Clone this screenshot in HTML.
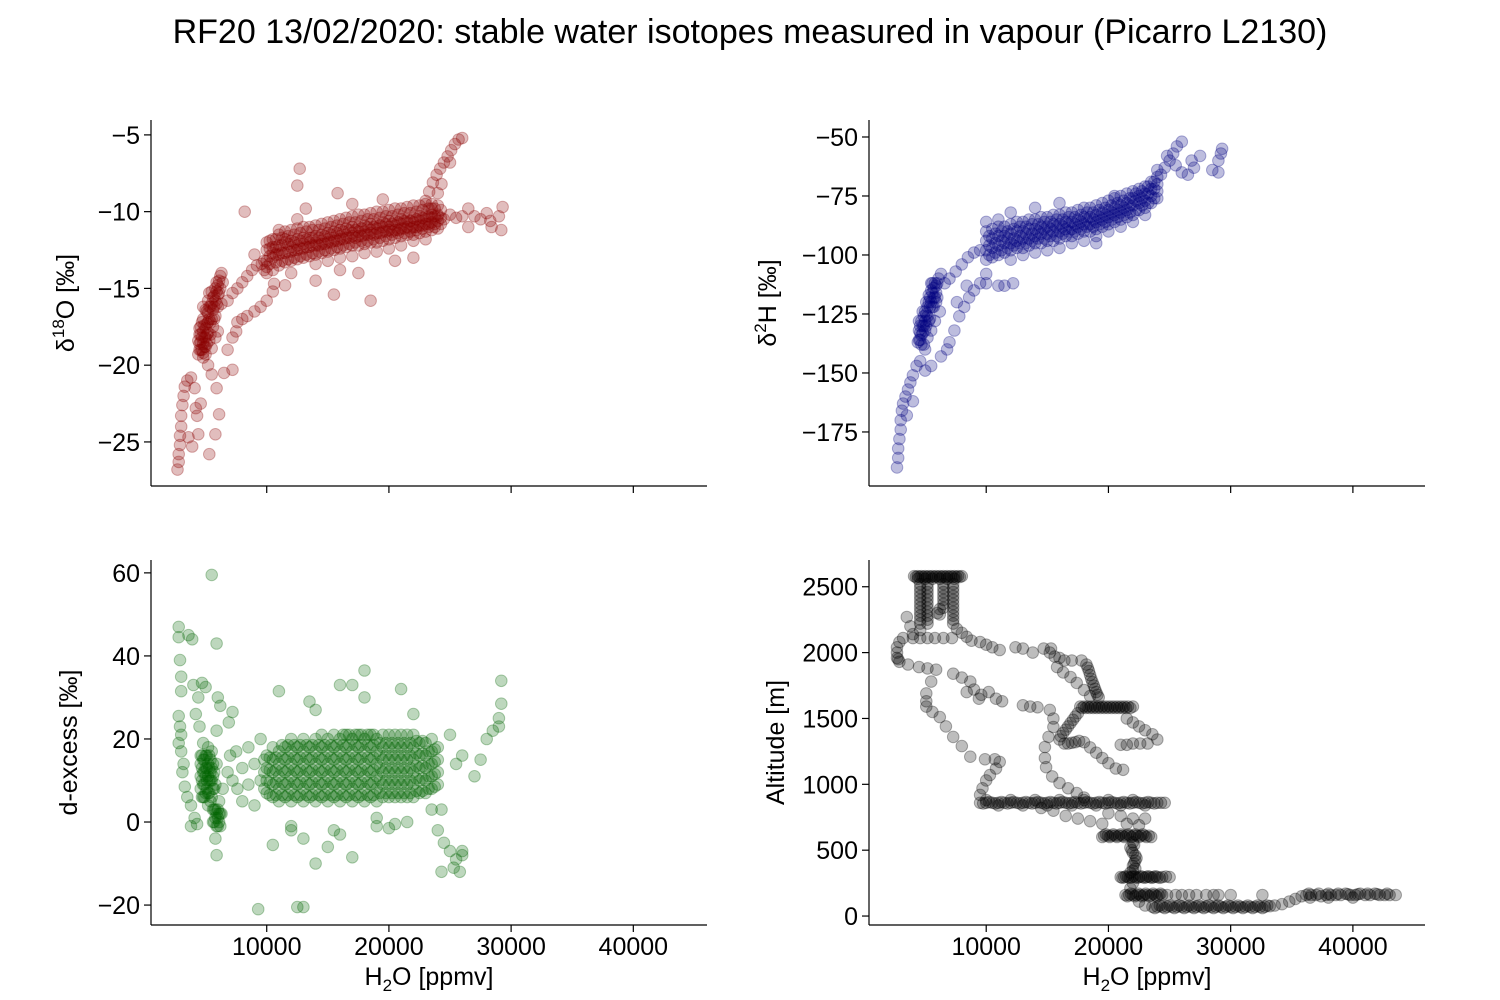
<!DOCTYPE html>
<html><head><meta charset="utf-8"><title>RF20 stable water isotopes</title>
<style>
html,body{margin:0;padding:0;background:#fff;}
svg{display:block;font-family:"Liberation Sans","DejaVu Sans",sans-serif;}
</style></head>
<body>
<svg id="fig" width="1500" height="1000" viewBox="0 0 1500 1000" xmlns="http://www.w3.org/2000/svg">
<rect width="1500" height="1000" fill="#fff"/>
<text x="750" y="43" font-size="34" text-anchor="middle">RF20 13/02/2020: stable water isotopes measured in vapour (Picarro L2130)</text>
<g id="panels"></g>
</svg>
<script>
// Data: "x:y1,y2,..." with x in thousand ppmv
const d18oData = "2.7:-26.8 2.8:-26.3,-25.8 2.9:-25.2,-24.6 3:-24,-23.3 3.1:-22.6 3.2:-22 3.3:-21.4 3.5:-21 3.8:-20.8 4.1:-21.5 4.2:-22.8 4.3:-23.3 4.4:-24.5 4.6:-22.5 3.9:-25.3 3.6:-24.7 5.3:-25.8 5.8:-24.5 6.1:-23.2 5.9:-21.5 5.5:-20.6 6.5:-20.5 5.2:-20 4.8:-19.5 7.2:-20.3 " +
"4.5:-18,-18.6,-17.6,-19 4.6:-17.5,-18.5,-19,-18 4.7:-19,-18.2,-17.2 4.8:-17,-17.8,-18.6,-19.2 4.9:-18.2,-17.4,-18.8 5:-17.6,-18.8,-16.4,-18.2 5.1:-16.5,-17.3,-18,-18.6 5.2:-17.9,-15.8,-16.6,-17.2 5.3:-18.4,-17,-15.3,-16.2 5.4:-17.2,-16.2,-18 5.5:-16,-18.9,-15.2,-17 5.6:-17.5,-16.4,-15.6 5.7:-15.5,-16.2,-17 5.8:-16.8,-18.2,-15,-15.8 5.9:-15.2,-14.6,-16 6:-17.8,-16.2,-14.8,-15.4 6.1:-14.5,-15.3 6.2:-15,-14.2 6.3:-14,-16 6.4:-14.6 4.4:-19.3,-18.4 4.8:-16.2 5:-19.3 " +
"6.8:-15.8 7.2:-15.3 7.6:-15 8:-14.6 8.4:-14.2 8.8:-13.8 9.2:-13.5 9.6:-13.4 6.8:-19 7.2:-18.2 7.6:-17.2 8:-17 8.4:-16.8 9:-16.5 9.5:-16.2 10:-15.8 10.5:-15.2 7.5:-17.8 8.2:-10 10.6:-14.7 11.5:-14.8 12:-14 " +
"9.8:-13.2,-13.8 10:-12.5,-13.2,-14,-12,-13.6 10.5:-12.3,-13,-13.8,-11.8,-12.7 11:-12.2,-12.8,-13.5,-11.5,-12.5,-11.2 11.5:-12,-12.7,-13.3,-11.3,-11.8 12:-11.9,-12.6,-13.2,-11.2,-12.3 12.5:-11.8,-12.5,-13.1,-11.1,-12.2,-10.5 13:-11.7,-12.4,-13,-11,-12.1 13.5:-11.7,-12.3,-12.9,-11,-12 14:-11.6,-12.2,-12.8,-10.9,-12,-13.4 14.5:-11.5,-12.1,-12.7,-10.8,-11.9 15:-11.4,-12,-12.6,-10.7,-11.8,-13.2 15.5:-11.3,-11.9,-12.5,-10.6,-11.7 16:-11.2,-11.8,-12.4,-10.5,-11.6,-13 16.5:-11.1,-11.7,-12.3,-10.4,-11.5 17:-11,-11.6,-12.2,-10.3,-11.4,-12.9 17.5:-11,-11.6,-12.2,-10.2,-11.3 18:-10.9,-11.5,-12.1,-10.2,-11.3,-12.7 18.5:-10.8,-11.4,-12,-10.1,-11.2 19:-10.8,-11.4,-12,-10,-11.1,-12.6 19.5:-10.7,-11.3,-11.9,-10,-11 20:-10.6,-11.2,-11.8,-9.9,-11,-12.4 20.5:-10.6,-11.2,-11.7,-9.8,-10.9 21:-10.5,-11.1,-11.6,-9.8,-10.8,-12.2 21.5:-10.5,-11,-11.5,-9.7,-10.7 22:-10.4,-11,-11.5,-9.6,-10.7,-11.9 22.5:-10.3,-10.9,-11.4,-9.6,-10.6 23:-10.3,-10.8,-11.3,-9.5,-10.5,-11.8 23.5:-10.2,-10.7,-11.2,-9.5,-10.4 24:-10.2,-10.6,-11.1,-9.6,-10.3 " +
"10.25:-11.9,-12.4,-12.9,-13.4 10.75:-11.8,-12.3,-12.8,-13.3 11.25:-11.7,-12.2,-12.7,-13.2 11.75:-11.6,-12.1,-12.6,-13.1 12.25:-11.5,-12,-12.5,-13 12.75:-11.4,-11.9,-12.4,-12.9 13.25:-11.3,-11.8,-12.3,-12.8 13.75:-11.2,-11.7,-12.2,-12.7 14.25:-11.2,-11.7,-12.2,-12.6 14.75:-11.1,-11.6,-12.1,-12.5 15.25:-11,-11.5,-12,-12.4 15.75:-10.9,-11.4,-11.9,-12.3 16.25:-10.8,-11.3,-11.8,-12.2 16.75:-10.7,-11.2,-11.7,-12.1 17.25:-10.7,-11.2,-11.7,-12 17.75:-10.6,-11.1,-11.6,-11.9 18.25:-10.5,-11,-11.5,-11.9 18.75:-10.5,-11,-11.5,-11.8 19.25:-10.4,-10.9,-11.4,-11.7 19.75:-10.3,-10.8,-11.3,-11.6 20.25:-10.3,-10.8,-11.3,-11.5 20.75:-10.2,-10.7,-11.2,-11.4 21.25:-10.1,-10.6,-11.1,-11.4 21.75:-10.1,-10.6,-11.1,-11.3 22.25:-10,-10.5,-11,-11.2 22.75:-9.9,-10.4,-10.9,-11.1 23.25:-9.8,-10.3,-10.8,-11 23.75:-9.8,-10.3,-10.8,-11 24.25:-9.9,-10.4,-10.8 " +
"23:-9.3 23.3:-8.7 23.6:-8.1 23.9:-7.6 24.2:-7.2 24.5:-6.8 24.8:-6.4 25.1:-6 25.4:-5.6 25.7:-5.3 26:-5.2 23.5:-9.8 24:-8.8 24.3:-8.2 25:-6.8 " +
"24.5:-10.5 25:-10.2 25.5:-10.4 26:-10.3 26.5:-9.8 27:-10.3 27.5:-10.5 28:-10.1 28.3:-10.6 29:-10.3 29.3:-9.7 29.2:-11.2 28.4:-11 26.5:-11 " +
"12.7:-7.2 12.5:-8.3 15.8:-8.8 13.2:-9.8 17:-9.5 19.5:-9.2 18.5:-15.8 15.5:-15.4 17.5:-14 14:-14.5 20.5:-13.2 22:-13 16:-13.8 9:-12.8";

const d2hData = "2.7:-190 2.8:-186,-182 2.9:-178 3:-174,-170 3.1:-166 3.2:-163 3.4:-160 3.6:-157 3.8:-154 4:-151 4.3:-147 4.6:-145 5:-149 5.5:-147 6.3:-143 6.8:-140 3.5:-168 4:-162 " +
"4.5:-132,-128,-136 4.6:-136,-130,-133 4.7:-128,-134,-138 4.8:-133,-124,-130 4.9:-138,-130,-126 5:-124,-132,-128 5.1:-130,-120,-125 5.2:-135,-126,-122 5.3:-120,-128,-117 5.4:-127,-118,-122 5.5:-132,-115,-120 5.6:-116,-122,-112 5.7:-122,-114,-118 5.8:-128,-118,-112 5.9:-113,-120,-116 6:-118,-112 6.1:-110 6.2:-124 4.4:-137 5:-140 5.5:-112 6.3:-108 " +
"6.6:-112 7:-110 7.5:-107 8:-104 8.5:-101 9:-99 9.5:-98 7:-137 7.4:-132 7.8:-126 8.2:-122 8.6:-118 9:-115 9.5:-112 10:-112 11:-113 11.5:-113 12.2:-112 7.6:-120 8.4:-113 10:-108 " +
"10:-94,-98,-102,-90,-86 10.5:-93,-97,-101,-89 11:-92,-96,-100,-88,-85 11.5:-92,-95,-99,-88 12:-91,-95,-98,-87,-102 12.5:-90,-94,-97,-86 13:-90,-93,-97,-86,-100 13.5:-89,-93,-96,-85 14:-89,-92,-95,-85,-99 14.5:-88,-91,-95,-84 15:-88,-91,-94,-84,-98 15.5:-87,-90,-94,-83 16:-87,-90,-93,-83,-97 16.5:-86,-89,-92,-82 17:-86,-89,-92,-82,-95 17.5:-85,-88,-91,-81 18:-84,-87,-90,-80,-94 18.5:-84,-87,-90,-80 19:-83,-86,-89,-79,-92 19.5:-82,-85,-88,-78 20:-81,-84,-87,-77,-90 20.5:-80,-83,-86,-76 21:-79,-82,-85,-75,-88 21.5:-78,-81,-84,-74 22:-76,-79,-83,-73,-86 22.5:-75,-78,-81,-72 23:-74,-77,-80,-71,-83 23.5:-72,-75,-78,-69 24:-70,-73,-76,-67 " +
"10.25:-92,-96,-100 10.75:-91,-95,-99 11.25:-90,-94,-98 11.75:-90,-93,-97 12.25:-89,-93,-96 12.75:-88,-92,-95 13.25:-88,-91,-95 13.75:-87,-91,-94 14.25:-87,-90,-93 14.75:-86,-89,-93 15.25:-86,-89,-92 15.75:-85,-88,-92 16.25:-85,-88,-91 16.75:-84,-87,-90 17.25:-84,-87,-90 17.75:-83,-86,-89 18.25:-82,-85,-88 18.75:-82,-85,-88 19.25:-81,-84,-87 19.75:-80,-83,-86 20.25:-79,-82,-85 20.75:-78,-81,-84 21.25:-77,-80,-83 21.75:-76,-79,-82 22.25:-74,-77,-81 22.75:-73,-76,-79 23.25:-71,-74,-78 23.75:-69,-72,-76 " +
"24.3:-66 24.6:-63 25:-60 25.3:-57 25.6:-54 26:-52 24:-64 24.8:-58 25.5:-62 26:-65 26.5:-66 26.8:-60 27:-63 28.5:-64 29:-65 29.3:-55 29.2:-57 29:-60 27.5:-58 " +
"14:-80 16:-78 12:-82 19:-95 20.5:-75";

const dexData = "2.8:47,44.5,25.5,19 2.9:39,23 3:35,31.5,21,17 3.2:14 3.1:12 3.3:8.5 3.5:6 3.8:4,-1 4.1:1 4.3:-0.5 4:33 4.4:30 4.5:23 4.2:26 3.6:45 3.9:44 4.7:33.5 5:32.5 5.9:43 6:30 6.2:28 5.9:22 7.2:26.5 6.9:24 5.5:59.5 " +
"4.6:14,8,11,16 4.7:10,16,13,6 4.8:6,12,15,9 4.9:12,9,15,6 5:16,7,11,13 5.1:8,13,10,16 5.2:4,11,14,7 5.3:13,7,10,16 5.4:10,15,5,12 5.5:17,6,10,13 5.6:11,3,14,8 5.7:3,8,12,0 5.8:9,1,3 5.9:14,-1,2 6:1,3,-1 6.1:5,0,2 6.2:-1,2 5.8:-4 5.9:-8 6.3:2 6.4:8 4.8:19 5.2:18 5.6:0 " +
"6.8:12 7.2:10 7.6:8 8:13 8.5:9 9:14 9.5:10 7:16 8:5 9:4 9.5:20 8.5:18 7.5:17 9.8:8,12,15 9.3:-21 " +
"10:7,10,13,16 10.5:6,9,12,15,18 11:5,8,11,14,17 11.5:6,9,12,15,18 12:5,8,11,14,17,20 12.5:6,9,12,15,18 13:5,8,11,14,17,20 13.5:6,9,12,15,18 14:5,8,11,14,17,20 14.5:6,9,12,15,18,21 15:5,8,11,14,17,20 15.5:6,9,12,15,18,21 16:5,8,11,14,17,20 16.5:6,9,12,15,18,21 17:5,8,11,14,17,20 17.5:6,9,12,15,18,21 18:5,8,11,14,17,20 18.5:6,9,12,15,18,21 19:5,8,11,14,17,20 19.5:6,9,12,15,18,21 20:6,9,12,15,18,21 20.5:6,9,12,15,18,21 21:6,9,12,15,18,21 21.5:6,9,12,15,18,21 22:6,9,12,15,18,21 22.5:7,10,13,16,19 23:7,10,13,16,19 23.5:8,11,14,17,20 24:9,12,15,18 " +
"10.25:6.5,9.5,12.5,15.5 10.75:6.5,9.5,12.5,15.5 11.25:6.5,9.5,12.5,15.5,18.5 11.75:6.5,9.5,12.5,15.5,18.5 12.25:6.5,9.5,12.5,15.5,18.5 12.75:6.5,9.5,12.5,15.5,18.5 13.25:6.5,9.5,12.5,15.5,18.5 13.75:6.5,9.5,12.5,15.5,18.5 14.25:6.5,9.5,12.5,15.5,18.5 14.75:6.5,9.5,12.5,15.5,18.5 15.25:6.5,9.5,12.5,15.5,18.5 15.75:6.5,9.5,12.5,15.5,18.5 16.25:6.5,9.5,12.5,15.5,18.5,21 16.75:6.5,9.5,12.5,15.5,18.5,21 17.25:6.5,9.5,12.5,15.5,18.5,21 17.75:6.5,9.5,12.5,15.5,18.5,21 18.25:6.5,9.5,12.5,15.5,18.5,21 18.75:6.5,9.5,12.5,15.5,18.5,21 19.25:7,10,13,16,19 19.75:7,10,13,16,19 20.25:7,10,13,16,19 20.75:7,10,13,16,19 21.25:7,10,13,16,19 21.75:7,10,13,16,19 22.25:7.5,10.5,13.5,16.5,19.5 22.75:7.5,10.5,13.5,16.5,19.5 23.25:8,11,14,17 23.75:8.5,11.5,14.5,17.5 " +
"24:-2 24.5:-5 24.3:3 25:-7 25.3:-11 25.5:-9 26:-8 25.8:-12 24.3:-12 26:-7 25.5:14 26:16 27:11 27.5:15 28:20 28.5:22 29:25 29.2:28.5,34 29:23 25:21 12.5:-20.5 13:-20.5 10.5:-5.5 12:-1 13:-4 14:-10 15:-6 16:-3 18:36.5 19:-1 20:-1.5 21:32 17:33 16:33 13.5:29 11:31.5 14:27 18:30 22:26 21.5:0 17:-8.5 19:1 20.5:-0.5 23.5:3 15.5:-2 12:-2";

const altData = "4.1:2580 4.4:2580,2560 4.7:2580 5:2580,2560 5.3:2580 5.6:2580,2560 5.9:2580 6.2:2580,2560 6.5:2580 6.8:2580,2560 7.1:2580 7.4:2580,2560 7.7:2580 8:2580 4.25:2575 4.55:2575 4.85:2575 5.15:2575 5.45:2575 5.75:2575 6.05:2575 6.35:2575 6.65:2575 6.95:2575 7.25:2575 7.55:2575 7.85:2575 " +
"4.6:2520,2460,2400,2340,2280,2220,2170,2490,2430,2370,2310,2250 5.2:2520,2460,2400,2340,2280,2220,2490,2430,2370,2310,2250 6.5:2520,2460,2400,2340,2490,2430,2370 6.2:2330,2290 6:2300 7.3:2520,2460,2400,2340,2280,2220,2490,2430,2370,2310,2250 7.6:2180 8:2150 8.4:2120 " +
"3.5:2270 3.8:2200 4:2140 3.2:2110 2.9:2080 2.7:2040,2000,1960 2.9:1930 " +
"4:2110 4.6:2110 5.2:2110 5.8:2110 6.5:2110 7.2:2110 8.8:2090 9.5:2080 10:2060 10.5:2040 11.1:2020 12.4:2040 13:2030 13.8:2000 14.7:2030 15.2:2000 15.6:1970 16:1960 16.4:1940 17:1940 17.8:1940 " +
"18.2:1910 18.4:1860 18.6:1800 18.8:1750 19:1700 19.2:1660 18.3:1885 18.5:1830 18.7:1775 18.9:1725 19.1:1680 " +
"17.7:1590 18:1590 18.3:1590 18.6:1590 18.9:1590 19.2:1590 19.5:1590 19.8:1590 20.1:1590 20.4:1590 20.7:1590 21:1590 21.3:1590 21.6:1590 22:1590 17.85:1580 18.15:1580 18.45:1580 18.75:1580 19.05:1580 19.35:1580 19.65:1580 19.95:1580 20.25:1580 20.55:1580 20.85:1580 21.15:1580 21.45:1580 21.8:1580 " +
"17.5:1540 17.1:1490 16.7:1440 16.3:1390 16:1340 16.4:1310 17:1315 17.6:1330 18:1320 18.5:1280 19:1240 19.5:1200 20:1160 20.6:1120 21.2:1110 17.3:1515 16.9:1465 16.5:1415 16.1:1365 16.7:1310 17.3:1320 " +
"21.5:1500 22:1470 22.5:1440 23:1410 23.6:1380 24:1340 21:1300 21.5:1300 22:1310 22.6:1310 23.2:1310 " +
"15.3:2030 15.8:1890 16.3:1850 16.9:1815 17.4:1770 18:1716 18.5:1670 " +
"13:1600 13.6:1590 14.2:1585 15.2:1565 15.5:1500 15.5:1435 15.1:1360 14.8:1283 14.8:1200 14.9:1130 15.4:1060 16:1010 16.7:970 17.4:933 18:900 " +
"2.8:1950 3.6:1910 4.5:1890 5.2:1880 5.9:1870 5.5:1780 5.1:1690 5.1:1630 5.1:1590 5.6:1550 6.2:1510 6.7:1440 7.3:1360 8:1290 8.7:1210 " +
"7.3:1840 8:1810 8.7:1780 8.4:1700 9:1720 9.6:1680 10.2:1700 10.8:1650 11.3:1630 9.4:1650 " +
"9.9:1190 10.7:1190 11.1:1170 10.8:1120 10.3:1070 10:1030 9.7:970 9.5:920 " +
"9.5:860 10:860,880 10.5:860 11:860,840 11.5:860 12:860,880 12.5:860 13:860,840 13.5:860 14:860,880 14.5:860 15:860,840 15.5:860 16:860,880 16.5:860 17:860,840 17.5:860 18:860,880 18.5:860 19:860,840 19.5:860 20:860,880 20.5:860 21:860,840 21.5:860 22:860,880 22.5:860 23:860,840 23.5:860 24:860 24.6:860 " +
"9.75:855 10.25:865 10.75:855 11.25:865 11.75:855 12.25:865 12.75:855 13.25:865 13.75:855 14.25:865 14.75:855 15.25:865 15.75:855 16.25:865 16.75:855 17.25:865 17.75:855 18.25:865 18.75:855 19.25:865 19.75:855 20.25:865 20.75:855 21.25:865 21.75:855 22.25:865 22.75:855 23.25:865 23.75:855 24.3:860 " +
"14.5:820 15.5:800 16.5:760 17.5:740 18.5:720 19.5:700 20:780 21:760 22:740 23:740 21.5:700 22.5:690 " +
"19.5:600 19.8:620 20.1:600 20.4:620 20.7:600 21:620 21.3:600 21.6:620 21.9:600 22.2:620 22.5:600 22.8:620 23.1:600 23.5:600 22:560 21.8:520 22:480 22.3:440 22.1:400 22.2:360 21.8:330 19.65:610 19.95:610 20.25:610 20.55:610 20.85:610 21.15:610 21.45:610 21.75:610 22.05:610 22.35:610 22.65:610 22.95:610 23.3:610 22.1:540 21.9:500 22.2:460 22.2:420 22:380 22:345 " +
"21:296 21.3:296 21.6:296 21.9:296 22.2:296 22.5:296 22.8:296 23.1:296 23.4:296 23.7:296 24:296 24.4:296 25:296 21.15:290 21.45:302 21.75:290 22.05:302 22.35:290 22.65:302 22.95:290 23.25:302 23.55:290 23.85:302 24.2:290 24.7:300 " +
"22:250 21.8:210 21.4:160 21.7:160 22:160 22.3:160 22.6:160 22.9:160 23.2:160 23.5:160 23.8:160 24.1:160 24.4:160 22.5:110 23:80 21.55:150 21.85:170 22.15:150 22.45:170 22.75:150 23.05:170 23.35:150 23.65:170 23.95:150 24.25:170 " +
"23.6:70 24:70 24.4:70 24.8:70 25.2:70 25.6:70 26:70 26.4:70 26.8:70 27.2:70 27.6:70 28:70 28.4:70 28.8:70 29.2:70 29.6:70 30:70 30.4:70 30.8:70 31.2:70 31.6:70 32:70 32.4:70 32.8:70 33.2:75 33.6:80 34.2:90 " +
"23.8:60 24.2:80 24.6:60 25:80 25.4:60 25.8:80 26.2:60 26.6:80 27:60 27.4:80 27.8:60 28.2:80 28.6:60 29:80 29.4:60 29.8:80 30.2:60 30.6:80 31:60 31.4:80 31.8:60 32.2:80 32.6:60 33:80 " +
"24.8:160 25.5:160 26:160 26.6:160 27.2:160 28:160 28.6:160 29:160 30:160 32.6:160 " +
"34.8:110 35.3:130 35.8:150 36.2:160 36.6:160 37:160 37.4:150 37.8:160 38.2:160 38.6:160 39:160 39.4:170 39.8:160 40.2:160 40.6:170 41:160 41.4:160 41.8:170 42.2:160 42.6:160 43:160 43.5:160 36.5:140 38:140 40:140 36.4:170 37.2:170 38:170 38.8:170 39.6:165 40.4:165 41.2:170 42:165 42.8:170";

// Axis tick labels
const xTickValues = [10000, 20000, 30000, 40000];
const xTickLabels = ["10000", "20000", "30000", "40000"];
const d18oTicks = [-5, -10, -15, -20, -25];
const d2hTicks = [-50, -75, -100, -125, -150, -175];
const dexTicks = [60, 40, 20, 0, -20];
const altTicks = [2500, 2000, 1500, 1000, 500, 0];

function parse(str){
  const xs=[], ys=[];
  str.trim().split(/\s+/).forEach(tok=>{
    const [xp, yp] = tok.split(':');
    yp.split(',').forEach(v=>{ xs.push(parseFloat(xp)*1000); ys.push(parseFloat(v)); });
  });
  return {xs, ys};
}
const NS="http://www.w3.org/2000/svg";
const root=document.getElementById('panels');
function el(tag, attrs, parent){
  const e=document.createElementNS(NS, tag);
  for(const k in attrs) e.setAttribute(k, attrs[k]);
  (parent||root).appendChild(e);
  return e;
}
function fmt(v){ return v<0 ? "\u2212"+Math.abs(v) : String(v); }

function panel(o){
  const g=el('g',{});
  
  
  const sx=v=>o.L+(v-o.xmin)/(o.xmax-o.xmin)*(o.R-o.L);
  const sy=v=>o.B-(v-o.ymin)/(o.ymax-o.ymin)*(o.B-o.T);
  const pts=parse(o.data);
  const pg=el('g',{},g);
  
  
  for(let i=0;i<pts.xs.length;i++){
    const c=el('circle',{cx:sx(pts.xs[i]).toFixed(1), cy:sy(pts.ys[i]).toFixed(1), r:5.8, fill:o.color, 'fill-opacity':0.26, stroke:o.color, 'stroke-opacity':0.3, 'stroke-width':1},pg);
    
    
  }
  const ls=el('line',{x1:o.L,y1:o.T,x2:o.L,y2:o.B,stroke:'#000','stroke-width':1.2},g);
  
  
  const bs=el('line',{x1:o.L,y1:o.B,x2:o.R,y2:o.B,stroke:'#000','stroke-width':1.2},g);
  
  
  xTickValues.forEach((v,i)=>{
    const x=sx(v);
    el('line',{x1:x,y1:o.B,x2:x,y2:o.B+7,stroke:'#000','stroke-width':1.2},g);
    if(o.xlabels){
      const t=el('text',{x:x,y:o.B+30,'font-size':25,'text-anchor':'middle'},g);
      t.textContent=xTickLabels[i];
      
      
    }
  });
  o.yticks.forEach(v=>{
    const y=sy(v);
    el('line',{x1:o.L-7,y1:y,x2:o.L,y2:y,stroke:'#000','stroke-width':1.2},g);
    const t=el('text',{x:o.L-11,y:y+9,'font-size':25,'text-anchor':'end'},g);
    t.textContent=fmt(v);
    
    
  });
  const yl=el('text',{transform:`translate(${o.ylx},${(o.T+o.B)/2}) rotate(-90)`,'font-size':25,'text-anchor':'middle'},g);
  yl.innerHTML=o.ylabel;
  
  
  if(o.xlabels){
    const xl=el('text',{x:(o.L+o.R)/2,y:985,'font-size':25,'text-anchor':'middle'},g);
    xl.innerHTML='H<tspan font-size="17" dy="6">2</tspan><tspan dy="-6">O [ppmv]</tspan>';
    
    
  }
}
panel({name:'d18o-panel',L:151,R:707,T:120,B:486,xmin:530,xmax:46030,ymin:-27.87,ymax:-4.03,data:d18oData,color:'#8b0000',yticks:d18oTicks,ylx:74,xlabels:false,
  ylabel:'\u03b4<tspan font-size="17" dy="-10">18</tspan><tspan dy="10">O [\u2030]</tspan>'});
panel({name:'d2h-panel',L:869,R:1425,T:120,B:486,xmin:410,xmax:45900,ymin:-197.9,ymax:-42.8,data:d2hData,color:'#000080',yticks:d2hTicks,ylx:776,xlabels:false,
  ylabel:'\u03b4<tspan font-size="17" dy="-10">2</tspan><tspan dy="10">H [\u2030]</tspan>'});
panel({name:'dexcess-panel',L:151,R:707,T:560,B:925,xmin:530,xmax:46030,ymin:-24.8,ymax:63.1,data:dexData,color:'#006400',yticks:dexTicks,ylx:77,xlabels:true,
  ylabel:'d-excess [\u2030]'});
panel({name:'altitude-panel',L:869,R:1425,T:560,B:925,xmin:410,xmax:45900,ymin:-68,ymax:2703,data:altData,color:'#000000',yticks:altTicks,ylx:784,xlabels:true,
  ylabel:'Altitude [m]'});
</script>
</body></html>
